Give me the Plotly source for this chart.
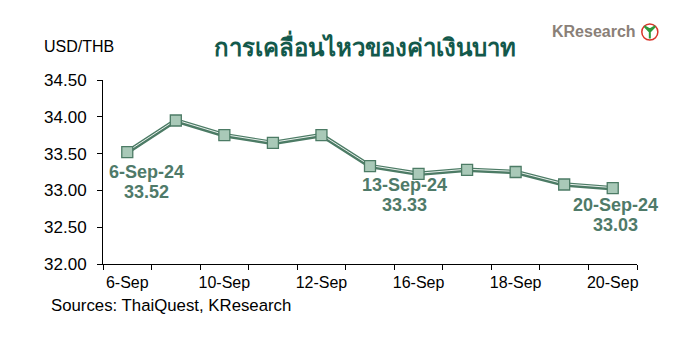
import plotly.graph_objects as go

dates = ["6-Sep", "9-Sep", "10-Sep", "11-Sep", "12-Sep", "13-Sep",
         "16-Sep", "17-Sep", "18-Sep", "19-Sep", "20-Sep"]
usd_thb = [33.52, 33.95, 33.75, 33.645, 33.75, 33.33,
           33.225, 33.28, 33.25, 33.08, 33.03]
tick_labels = ["6-Sep", "", "10-Sep", "", "12-Sep", "",
               "16-Sep", "", "18-Sep", "", "20-Sep"]
y_ticks = [32.0, 32.5, 33.0, 33.5, 34.0, 34.5]

# (date, value, date label, value label, x shift, line1 offset, line2 offset)
callouts = [("6-Sep", 33.52, "6-Sep-24", "33.52", 19, 19.5, 40),
            ("13-Sep", 33.33, "13-Sep-24", "33.33", 34, 18.5, 38.5),
            ("20-Sep", 33.03, "20-Sep-24", "33.03", 3, 17, 36.5)]

dark = "#4c7b65"
fig = go.Figure()
fig.add_trace(go.Scatter(x=dates, y=usd_thb, mode="lines",
                         line=dict(color=dark, width=4.5), hoverinfo="skip"))
fig.add_trace(go.Scatter(x=dates, y=[v + 0.008 for v in usd_thb], mode="lines",
                         line=dict(color="#e8f0ec", width=1), hoverinfo="skip"))
fig.add_trace(go.Scatter(x=dates, y=usd_thb, mode="markers",
                         marker=dict(symbol="square", size=11, color="#a9c9b8",
                                     line=dict(color=dark, width=1.3))))

for d, v, t1, t2, xs, o1, o2 in callouts:
    for txt, off in ((t1, o1), (t2, o2)):
        fig.add_annotation(x=d, y=v, text="<b>" + txt + "</b>", showarrow=False,
                           xanchor="center", yanchor="middle", xshift=xs, yshift=-off,
                           font=dict(size=18, color="#4f7a69", family="Liberation Sans"))

# plot area: 534 x 184 px
fig.add_annotation(xref="paper", yref="paper", x=-0.115, y=1.18, text="USD/THB",
                   showarrow=False, xanchor="left", yanchor="middle",
                   font=dict(size=16, color="#000000"))
fig.add_annotation(xref="paper", yref="paper", x=0.49, y=1.185,
                   text="<b>การเคลื่อนไหวของค่าเงินบาท</b>", showarrow=False,
                   xanchor="center", yanchor="middle",
                   font=dict(size=24, color="#13594b"))
fig.add_annotation(xref="paper", yref="paper", x=-0.102, y=-0.225,
                   text="Sources: ThaiQuest, KResearch", showarrow=False,
                   xanchor="left", yanchor="middle",
                   font=dict(size=16.8, color="#000000"))
fig.add_annotation(xref="paper", yref="paper", x=1.002, y=1.261,
                   text="<b>KResearch</b>", showarrow=False,
                   xanchor="right", yanchor="middle",
                   font=dict(size=16, color="#8a8078"))
fig.add_shape(type="circle", xref="paper", yref="paper",
              x0=1.009, x1=1.039, y0=1.217, y1=1.305,
              line=dict(color="#d9342b", width=1.5), fillcolor="white")
fig.add_shape(type="path", xref="paper", yref="paper",
              path="M 1.024 1.225 L 1.024 1.262 L 1.014 1.292 L 1.024 1.275 L 1.034 1.292 L 1.024 1.262 Z",
              line=dict(color="#2e9a3c", width=2), fillcolor="#2e9a3c")

fig.update_layout(
    width=685, height=349,
    margin=dict(l=95, r=56, t=72, b=93, autoexpand=False),
    paper_bgcolor="white", plot_bgcolor="white",
    showlegend=False,
    font=dict(family="Liberation Sans, Arial", size=16, color="#000000"),
    xaxis=dict(type="category", tickmode="array", tickvals=dates, ticktext=tick_labels,
               range=[-0.5, 10.5],
               tickson="boundaries", ticks="outside", ticklen=5, tickcolor="#000",
               tickangle=0, automargin=False, ticklabelstandoff=4,
               showline=True, linecolor="#000", linewidth=1, showgrid=False,
               tickfont=dict(size=16)),
    yaxis=dict(range=[32, 34.5], tickvals=y_ticks, tickformat=".2f",
               ticks="outside", ticklen=5, tickcolor="#000", automargin=False,
               ticklabelstandoff=7,
               showline=True, linecolor="#000", linewidth=1, showgrid=False,
               zeroline=False, tickfont=dict(size=17)),
)
fig.write_html("out.html")
